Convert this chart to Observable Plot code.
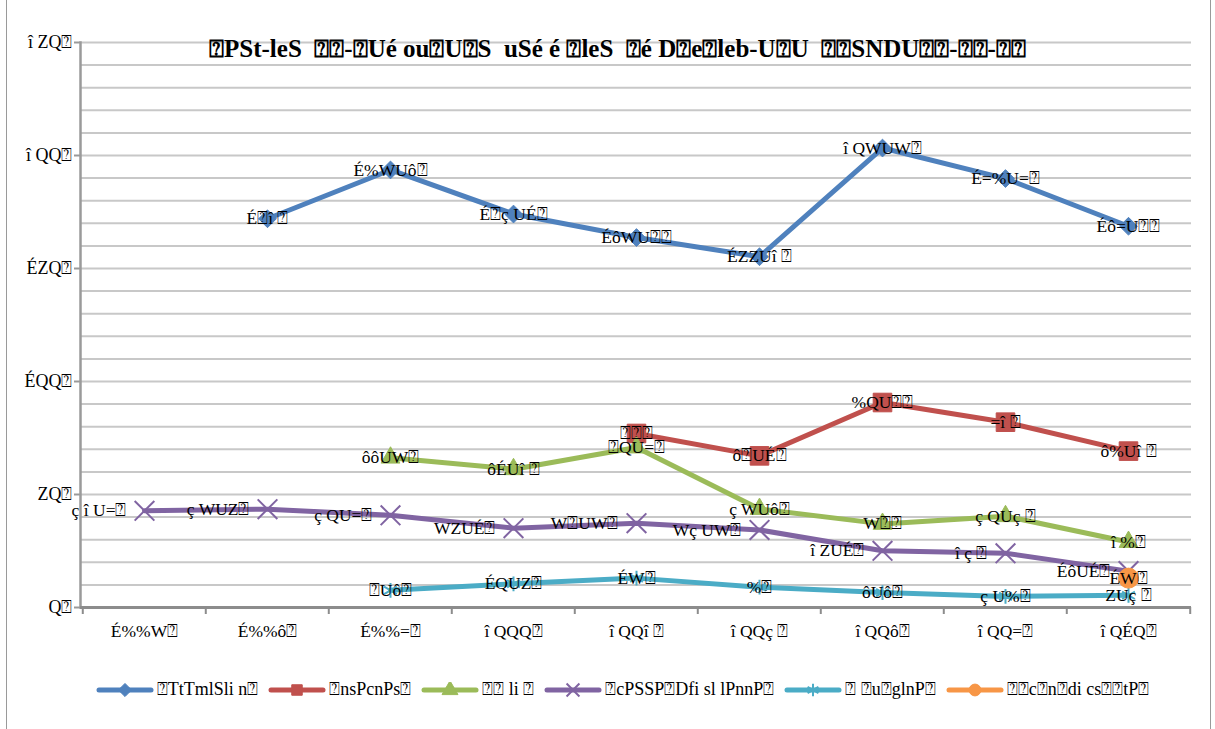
<!DOCTYPE html>
<html><head><meta charset="utf-8">
<script src="https://cdn.jsdelivr.net/npm/d3@7"></script>
<script src="https://cdn.jsdelivr.net/npm/@observablehq/plot@0.6"></script>
<style>
body{margin:0;background:#fff;}
#wrap{position:relative;width:1215px;height:729px;overflow:hidden;font-family:"Liberation Serif",serif;color:#000;}
#frame{position:absolute;left:6px;top:-2px;width:1205px;height:740px;border:1px solid #9a9a9a;box-sizing:border-box;pointer-events:none}
#title{position:absolute;left:0;width:1235px;top:35px;text-align:center;font-weight:bold;font-size:25px;white-space:pre;}
#legend{position:absolute;top:679px;left:0;width:1245px;display:flex;justify-content:center;align-items:center;font-size:18px;white-space:pre;}
#legend .it{display:flex;align-items:center;margin:0 5px;}
#legend svg{margin-right:3px}
#chart{position:absolute;left:0;top:0}
</style></head>
<body><div id="wrap"><div id="chart"></div><div id="title"></div><div id="legend"></div><div id="frame"></div></div>
<script>
const T = "\u2370";
const fix = s => s.replaceAll("□", T);
// glyph mapping as shown in the chart (digits rendered garbled)
const G = {"0":"Q","1":"É","2":"î ","3":"W","4":"ç ","5":"Z","6":"ô","7":T,"8":"=","9":"%",".":"U"};
const enc = v => String(v).split("").map(c => G[c]).join("") + T;

const titleText = fix("□PSt-leS  □□-□Ué ou□U□S  uSé é □leS  □é D□e□leb-U□U  □□SNDU□□-□□-□□");
const years = [1993, 1996, 1998, 2000, 2002, 2004, 2006, 2008, 2010];
const seriesNames = ["□TtTmlSli n□", "□nsPcnPs□", "□□ li □", "□cPSSP□Dfi sl lPnnP□", "□ □u□glnP□", "□□c□n□di cs□□tP□"].map(fix);
const colors = ["#4F81BD", "#C0504D", "#9BBB59", "#8064A2", "#4BACC6", "#F79646"];
const symbols = ["diamond2", "square", "triangle", "times", "asterisk", "circle"];

const s1 = [null, 172, 193.6, 174.1, 163.7, 155.2, 203.3, 189.8, 168.7];
const s2 = [null, null, null, null, 77, 67.1, 90.7, 82, 69.2];
const s3 = [null, null, 66.3, 61.2, 70.8, 43.6, 37, 40.4, 29];
const s4 = [42.8, 43.5, 40.8, 35.1, 37.3, 34.3, 25.1, 24, 16.1];
const s5 = [null, null, 7.6, 10.5, 13, 9, 6.6, 4.9, 5.4];
const s6 = [null, null, null, null, null, null, null, null, 13];
const yTicks = [0, 50, 100, 150, 200, 250];
const gridTicks = [10,20,30,40,50,60,70,80,90,100,110,120,130,140,150,160,170,180,190,200,210,220,230,240,250];

const series = [s1, s2, s3, s4, s5, s6];
const rows = [];
series.forEach((vals, si) => vals.forEach((v, i) => { if (v != null) rows.push({s: si, x: years[i], y: v, label: enc(v)}); }));

const W = 1215, H = 665, mL = 80, mR = 24, mT = 42, mB = 58;
const step = (W - mL - mR) / years.length;

const marks = [
  Plot.gridY({ticks: gridTicks, stroke: "#c8c8c8", strokeOpacity: 1, strokeWidth: 2}),
  Plot.axisY({ticks: yTicks, tickFormat: enc, tickSize: 6, tickPadding: 2, stroke: "#9a9a9a", strokeWidth: 2, fontSize: 18, label: null}),
  Plot.axisX({tickSize: 0, tickPadding: 17, tickFormat: enc, fontSize: 17.5, label: null}),
  Plot.frame({anchor: "left", stroke: "#9a9a9a", strokeWidth: 2.5}),
  Plot.ruleY([0], {stroke: "#8c8c8c", strokeWidth: 3}),
  Plot.ruleX(years, {x: d => d, dx: -step / 2, y1: 0, y2: 0, insetTop: 7, stroke: "#8c8c8c", strokeWidth: 2}),
  Plot.ruleX(years.slice(-1), {x: d => d, dx: step / 2, y1: 0, y2: 0, insetTop: 7, stroke: "#8c8c8c", strokeWidth: 2}),
  Plot.line(rows, {x: "x", y: "y", z: "s", stroke: d => colors[d.s], strokeWidth: 5, strokeLinejoin: "round", strokeLinecap: "round"})
];
const rr = [8, 10.5, 7, 9, 7, 10];
series.forEach((vals, si) => {
  const d = rows.filter(r => r.s === si);
  const hollow = symbols[si] === "times" || symbols[si] === "asterisk";
  marks.push(Plot.dot(d, {x: "x", y: "y", symbol: () => symbols[si], r: rr[si],
    fill: hollow ? "none" : colors[si], stroke: colors[si], strokeWidth: hollow ? 2 : 1}));
});
marks.push(Plot.text(rows.filter(r => r.s !== 3), {x: "x", y: "y", text: "label", fontSize: 17.5, fill: "#000", textAnchor: "middle"}));
marks.push(Plot.text(rows.filter(r => r.s === 3), {x: "x", y: "y", text: "label", fontSize: 17.5, fill: "#000", textAnchor: "end", dx: -18}));

const chart = Plot.plot({
  width: W, height: H, marginLeft: mL, marginRight: mR, marginTop: mT, marginBottom: mB,
  style: {fontFamily: "Liberation Serif", fontSize: "17px", color: "#000", background: "transparent", overflow: "visible"},
  x: {type: "point", domain: years, padding: 0.5, label: null},
  y: {domain: [0, 250], label: null},
  symbol: {type: "identity"},
  marks
});
document.getElementById("chart").appendChild(chart);
document.getElementById("title").textContent = titleText;

const leg = d3.select("#legend");
seriesNames.forEach((name, i) => {
  const it = leg.append("div").attr("class", "it");
  const sv = it.append("svg").attr("width", 58).attr("height", 16);
  sv.append("line").attr("x1", 3).attr("x2", 55).attr("y1", 8).attr("y2", 8).attr("stroke", colors[i]).attr("stroke-width", 5).attr("stroke-linecap", "round");
  const symMap = {diamond2: d3.symbolDiamond2, square: d3.symbolSquare, triangle: d3.symbolTriangle, times: d3.symbolTimes, asterisk: d3.symbolAsterisk, circle: d3.symbolCircle};
  const hollow = symbols[i] === "times" || symbols[i] === "asterisk";
  sv.append("path").attr("transform", "translate(29,8)").attr("d", d3.symbol(symMap[symbols[i]], 110)())
    .attr("fill", hollow ? "none" : colors[i]).attr("stroke", colors[i]).attr("stroke-width", hollow ? 2 : 1);
  it.append("span").text(name);
});
</script></body></html>
